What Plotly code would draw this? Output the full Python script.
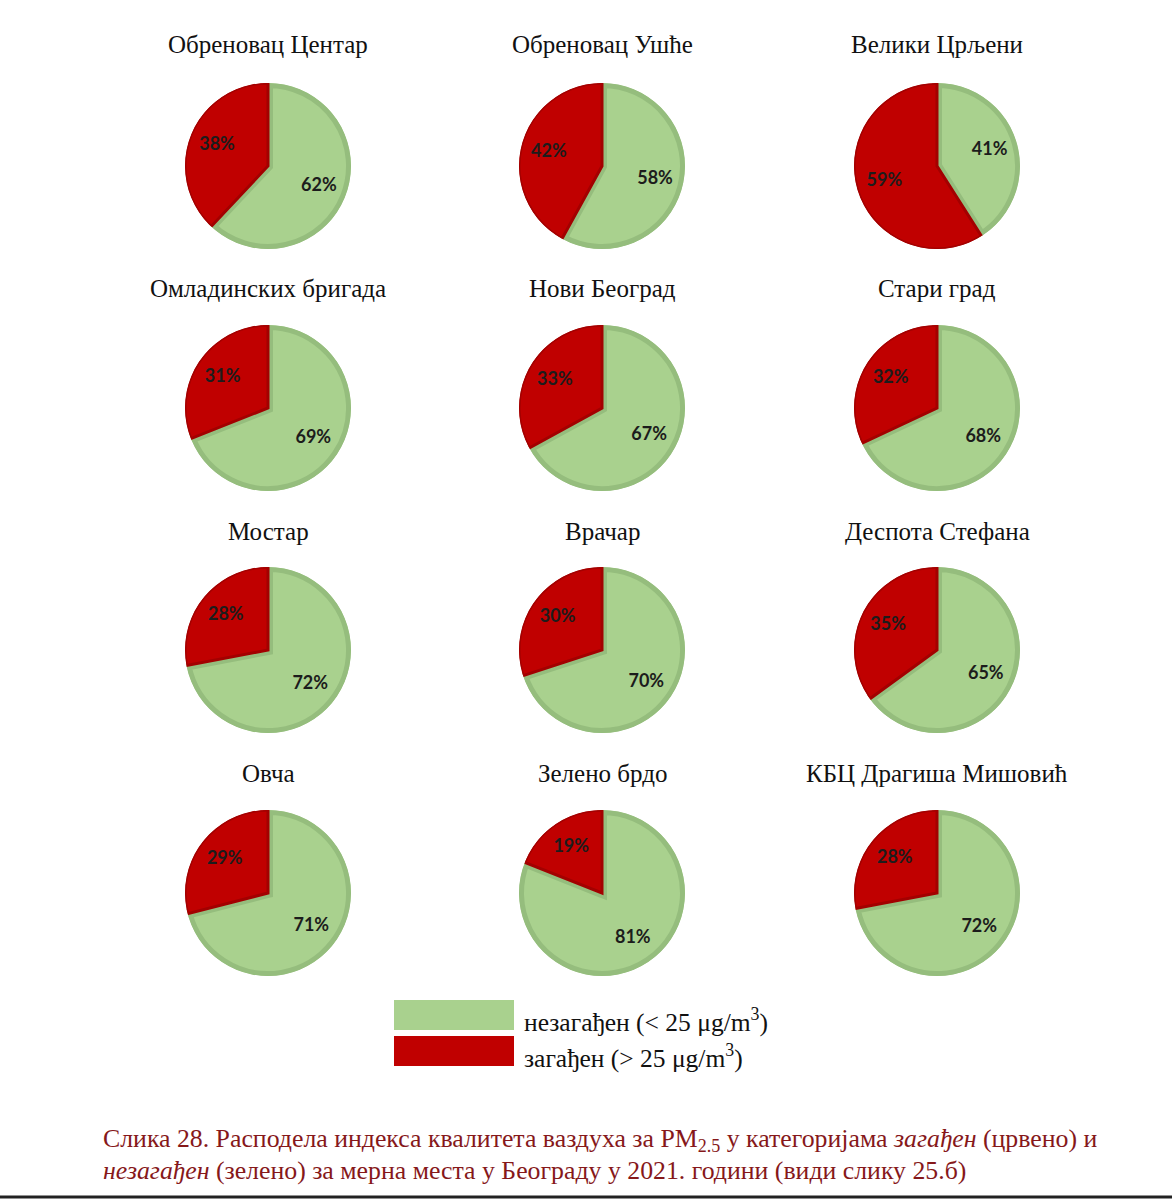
import plotly.graph_objects as go

stations = ["Обреновац Центар", "Обреновац Ушће", "Велики Црљени",
            "Омладинских бригада", "Нови Београд", "Стари град",
            "Мостар", "Врачар", "Деспота Стефана",
            "Овча", "Зелено брдо", "КБЦ Драгиша Мишовић"]
clean = [62, 58, 41, 69, 67, 68, 72, 70, 65, 71, 81, 72]
polluted = [38, 42, 59, 31, 33, 32, 28, 30, 35, 29, 19, 28]
category_names = ["незагађен", "загађен"]
category_labels = ["незагађен (< 25 μg/m<sup>3</sup>)", "загађен (> 25 μg/m<sup>3</sup>)"]

W, H = 1172, 1200
GREEN, GREEN_EDGE = "#a9d18e", "#95bd7d"
RED, RED_EDGE = "#c00000", "#a30000"

col_x = [268, 602, 937]
row_y = [166, 408, 650, 893]
title_y = [45, 288, 531, 773]
R = 83
LABEL_R = 0.66

fig = go.Figure()
ann = []
layout_polars = {}
for i, name in enumerate(stations):
    r, c = divmod(i, 3)
    cx, cy = col_x[c], row_y[r]
    vals = [clean[i], polluted[i]]
    widths = [v * 3.6 for v in vals]
    mids = [vals[0] * 1.8, (vals[0] + vals[1] / 2) * 3.6]
    pid = "polar" if i == 0 else f"polar{i + 1}"
    fig.add_trace(go.Barpolar(
        r=[1, 1], theta=mids, width=widths, base=0,
        marker=dict(color=[GREEN, RED], line=dict(color=[GREEN_EDGE, RED_EDGE], width=[10, 3])),
        subplot=pid, showlegend=False, name=name,
        hovertext=category_names, hoverinfo="text+theta",
    ))
    fig.add_trace(go.Scatterpolar(
        r=[LABEL_R, LABEL_R], theta=mids, mode="text",
        text=[f"<b>{v}%</b>" for v in vals],
        textfont=dict(family="Lato", size=18, color="#1c1c1c"),
        subplot=pid, showlegend=False, hoverinfo="skip",
    ))
    layout_polars[pid] = dict(
        domain=dict(x=[(cx - R) / W, (cx + R) / W], y=[1 - (cy + R) / H, 1 - (cy - R) / H]),
        bgcolor="rgba(0,0,0,0)", hole=0,
        radialaxis=dict(range=[0, 1], visible=False, showgrid=False),
        angularaxis=dict(rotation=90, direction="clockwise", visible=False, showgrid=False),
        barmode="overlay",
    )
    ann.append(dict(text=name, x=cx / W, y=1 - title_y[r] / H, xref="paper", yref="paper",
                    showarrow=False, xanchor="center", yanchor="middle",
                    font=dict(family="Liberation Serif", size=25, color="#111111")))

shapes = [
    dict(type="rect", xref="paper", yref="paper", x0=394 / W, x1=514 / W,
         y0=1 - 1030 / H, y1=1 - 1000 / H, fillcolor=GREEN, line=dict(width=0)),
    dict(type="rect", xref="paper", yref="paper", x0=394 / W, x1=514 / W,
         y0=1 - 1066 / H, y1=1 - 1036 / H, fillcolor=RED, line=dict(width=0)),
    dict(type="line", xref="paper", yref="paper", x0=0, x1=1,
         y0=1 - 1197 / H, y1=1 - 1197 / H, line=dict(color="#222222", width=3)),
]
for lbl, yy in zip(category_labels, [1020, 1056]):
    ann.append(dict(text=lbl, x=522 / W, y=1 - yy / H, xref="paper", yref="paper",
                    showarrow=False, xanchor="left", yanchor="middle",
                    font=dict(family="Liberation Serif", size=25.5, color="#111111")))

CAP = "#86181a"
ann.append(dict(text="Слика 28. Расподела индекса квалитета ваздуха за PM<sub>2.5</sub> у категоријама <i>загађен</i> (црвено) и",
                x=101 / W, y=1 - 1140 / H, xref="paper", yref="paper", showarrow=False,
                xanchor="left", yanchor="middle",
                font=dict(family="Liberation Serif", size=25.8, color=CAP)))
ann.append(dict(text="<i>незагађен</i> (зелено) за мерна места у Београду у 2021. години (види слику 25.б)",
                x=101 / W, y=1 - 1170 / H, xref="paper", yref="paper", showarrow=False,
                xanchor="left", yanchor="middle",
                font=dict(family="Liberation Serif", size=25.8, color=CAP)))

fig.update_layout(width=W, height=H, margin=dict(l=0, r=0, t=0, b=0),
                  paper_bgcolor="white", plot_bgcolor="white",
                  annotations=ann, shapes=shapes, **layout_polars)
fig.write_html("out.html", config={"displayModeBar": False},
               post_script="document.body.style.margin='0';")
